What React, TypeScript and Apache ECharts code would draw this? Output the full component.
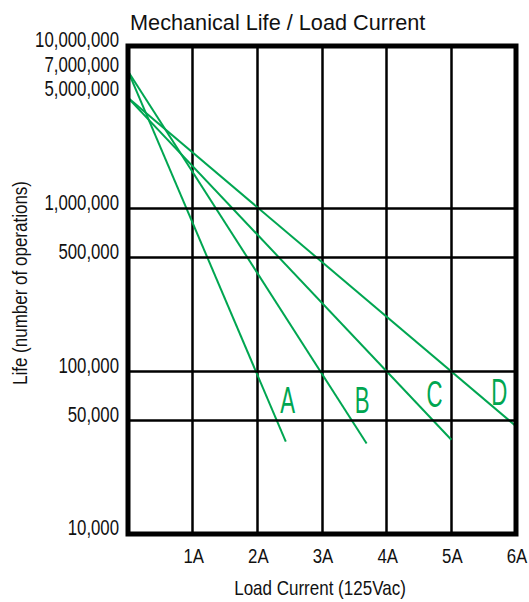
import React, { useEffect, useRef } from "react";
import * as echarts from "echarts";

const yTickValues = [10000, 50000, 100000, 500000, 1000000, 5000000, 7000000, 10000000];
const yGridValues = [50000, 100000, 500000, 1000000];
const xTickValues = [1, 2, 3, 4, 5, 6];
const curveNames = ["A", "B", "C", "D"];
const curveA = [[0, 7000000], [2.44, 37000]];
const curveB = [[0, 7000000], [3.69, 36000]];
const curveC = [[0, 4800000], [5.0, 38000]];
const curveD = [[0, 4800000], [6.0, 46000]];
const letterPositions = [[2.47, 67000], [3.62, 67000], [4.74, 73000], [5.74, 75000]];

const GREEN = "#00a651";
const SANS = '"Liberation Sans", Arial, Helvetica, sans-serif';
const TEXT = "#111";

export default function App() {
  const ref = useRef<HTMLDivElement>(null);
  useEffect(() => {
    if (!ref.current) return;
    const chart = echarts.init(ref.current, null, { renderer: "svg" });
    const curves = [curveA, curveB, curveC, curveD];
    const condensedText = (text: string, x: number, y: number, size: number, sx: number, align: string, fill = TEXT, extra: any = {}) => ({
      type: "text",
      x,
      y,
      scaleX: sx,
      ...extra,
      style: {
        text,
        fill,
        fontSize: size,
        fontFamily: SANS,
        align,
        verticalAlign: "middle",
        textAlign: align,
        textVerticalAlign: "middle",
      },
    });
    const option: any = {
      animation: false,
      backgroundColor: "#fff",
      title: {
        text: "Mechanical Life / Load Current",
        left: 130,
        top: 11,
        padding: 0,
        textStyle: { fontFamily: SANS, fontSize: 21.7, fontWeight: "normal", color: TEXT },
      },
      grid: {
        left: 128,
        top: 46,
        width: 388,
        height: 488,
        outerBoundsMode: "none",
        containLabel: false,
        show: true,
        borderColor: "#000",
        borderWidth: 5,
        backgroundColor: "transparent",
        z: 10,
      },
      graphic: [
        condensedText("Life (number of operations)", 20, 283, 21, 0.81, "center", TEXT, { rotation: Math.PI / 2 }),
        condensedText("Load Current (125Vac)", 320, 588, 21, 0.81, "center"),
      ],
      xAxis: {
        type: "value",
        min: 0,
        max: 6,
        interval: 1,
        axisLine: { show: false },
        axisTick: { show: false },
        axisLabel: { show: false },
        splitLine: { show: true, lineStyle: { color: "#000", width: 2.5 } },
      },
      yAxis: {
        type: "log",
        logBase: 10,
        min: 10000,
        max: 10000000,
        axisLine: { show: false },
        axisTick: { show: false },
        axisLabel: { show: false },
        splitLine: { show: false },
        minorSplitLine: { show: false },
      },
      series: [
        {
          type: "line",
          data: [],
          z: 1,
          silent: true,
          markLine: {
            silent: true,
            symbol: "none",
            label: { show: false },
            lineStyle: { color: "#000", width: 2.5, type: "solid" },
            data: yGridValues.map((v) => ({ yAxis: v })),
          },
        },
        ...curves.map((c, i) => ({
          type: "line",
          name: curveNames[i],
          data: c,
          z: 3,
          symbol: "none",
          lineStyle: { color: GREEN, width: 2 },
        })),
        {
          type: "custom",
          name: "curve labels",
          z: 4,
          silent: true,
          data: letterPositions,
          renderItem: (params: any, api: any) => {
            const p = api.coord([api.value(0), api.value(1)]);
            return condensedText(curveNames[params.dataIndex], p[0], p[1], 37, 0.6, "center", GREEN);
          },
        },
        {
          type: "custom",
          name: "y tick labels",
          z: 4,
          silent: true,
          data: yTickValues.map((v) => [0, v]),
          renderItem: (params: any, api: any) => {
            const v = api.value(1);
            const p = api.coord([0, v]);
            return condensedText(Math.round(v).toLocaleString("en-US"), p[0] - 9, p[1] - 6, 21.5, 0.78, "right");
          },
        },
        {
          type: "custom",
          name: "x tick labels",
          z: 4,
          silent: true,
          data: xTickValues.map((v) => [v, 10000]),
          renderItem: (params: any, api: any) => {
            const v = api.value(0);
            const p = api.coord([v, 10000]);
            return condensedText(`${v}A`, p[0] + 1, p[1] + 21.5, 21, 0.8, "center");
          },
        },
      ],
    };
    chart.setOption(option);
    return () => chart.dispose();
  }, []);
  return (
    <div
      ref={ref}
      style={{ position: "fixed", left: 0, top: 0, width: 529, height: 602 }}
    />
  );
}
